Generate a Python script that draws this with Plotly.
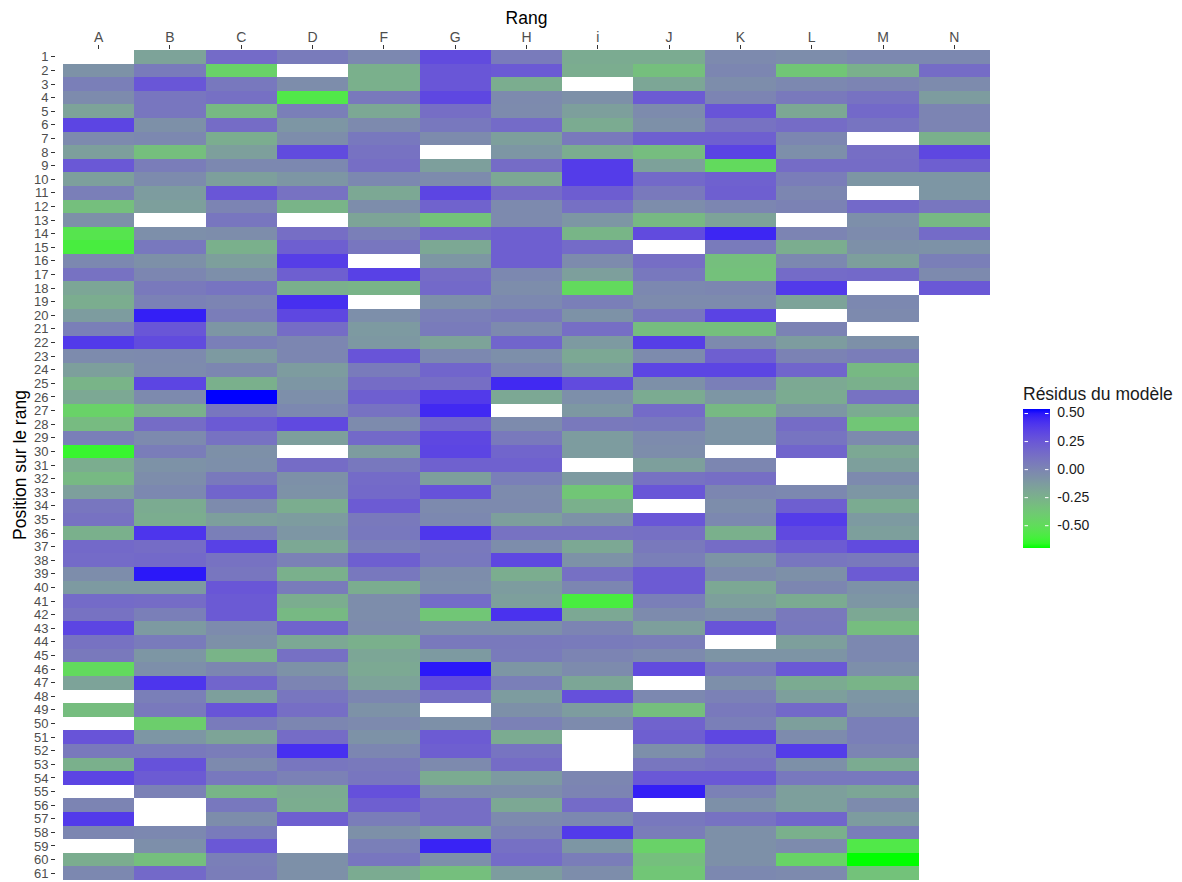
import plotly.graph_objects as go

N_ = None
rang_labels = ["A", "B", "C", "D", "F", "G", "H", "i", "J", "K", "L", "M", "N"]
positions = list(range(1, 62))
legend_ticks = [0.50, 0.25, 0.00, -0.25, -0.50]
legend_text = ["0.50", "0.25", "0.00", "-0.25", "-0.50"]

col_A = [N_,-.08,.03,-.04,-.17,.33,-.03,-.15,.24,-.15,.03,-.33,-.07,-.55,-.6,-.02,.1,-.19,-.23,-.13,.03,.38,-.04,-.15,-.27,-.2,-.44,-.31,.03,-.64,-.23,-.3,-.15,.08,.1,-.25,.15,.14,-.05,-.12,.14,.1,.33,.1,.06,-.49,-.17,N_,-.32,N_,.26,.06,-.25,.33,N_,0,.38,-.01,N_,-.23,-.02]
col_B = [-.17,.05,.25,.08,.08,-.07,-.02,-.33,.04,-.04,-.13,-.15,N_,-.06,.07,-.07,-.01,.06,.02,.47,.25,.3,-.03,-.04,.33,-.03,-.25,.13,-.03,.04,-.08,-.05,-.02,-.22,-.23,.4,.13,.15,.49,-.12,.13,.03,-.12,.05,-.1,-.06,.4,.03,.06,-.42,-.1,.06,.27,.22,.02,N_,N_,-.02,-.06,-.33,.15]
col_C = [.14,-.44,.07,.11,-.3,.13,-.23,-.15,-.02,-.15,.25,0,.08,-.05,-.25,-.15,-.06,.09,0,.04,-.1,.03,-.12,-.01,-.25,.53,.08,.23,.1,-.07,-.06,.06,.17,-.04,-.15,.03,.35,.1,.08,.25,.23,.23,-.04,-.07,-.27,-.01,.17,-.15,.26,.05,-.18,.04,-.03,.07,-.28,.07,-.05,.05,.24,.03,.04]
col_D = [.05,N_,-.05,-.57,.03,-.1,-.05,.3,-.02,-.1,.1,-.27,N_,.12,.2,.36,.2,-.25,.42,.32,.13,-.01,-.01,-.13,-.1,-.06,-.02,.31,-.15,N_,.13,-.07,-.08,-.23,-.13,-.1,-.2,.02,-.25,.05,-.23,-.3,.18,-.2,.11,-.08,0,.08,.12,-.01,.13,.42,.08,.02,-.22,-.23,.2,N_,N_,-.07,-.07]
col_F = [-.02,-.25,-.25,.06,-.2,-.03,.07,.1,.12,-.02,-.2,-.05,-.18,.03,.08,N_,.35,-.27,N_,-.06,-.12,-.11,.26,.05,.13,.2,.1,-.04,.15,-.13,.07,.14,.15,.22,.06,.07,.03,.2,.07,-.23,-.05,-.05,-.04,-.25,-.19,-.21,-.17,-.01,-.08,-.03,-.08,-.01,.06,.08,.28,.2,.04,-.07,.03,.08,-.22]
col_G = [.3,.25,.25,.32,.12,.07,-.04,N_,-.15,-.04,.33,.18,-.35,.16,-.2,-.1,.13,.15,-.06,.03,.05,-.17,-.02,.17,.12,.38,.44,.17,.32,.33,.19,-.15,.27,-.03,-.02,.39,.06,.07,-.05,-.06,.14,-.37,-.06,.06,-.12,.49,.3,.11,N_,-.07,.22,.2,-.03,-.22,-.04,.12,.12,-.15,.46,-.06,-.33]
col_H = [.05,.23,-.23,-.03,-.04,.14,-.15,-.1,.13,-.2,.13,-.03,-.03,.2,.2,.2,-.02,-.05,-.02,.06,-.03,.17,-.06,0,.44,-.2,N_,-.04,.06,.17,.19,.03,-.04,-.03,-.15,.1,-.05,.32,-.23,-.13,-.15,.41,-.07,.06,.05,-.1,.03,-.13,-.07,.02,-.22,.09,.13,-.12,-.05,-.2,-.03,.02,.11,.14,-.13]
col_i = [-.22,-.23,N_,-.07,-.15,-.22,.06,-.23,.37,.37,.21,.11,-.1,-.28,.14,-.04,-.15,-.49,.03,-.08,.12,-.12,-.2,-.13,.3,-.06,-.11,.06,-.13,-.13,N_,-.12,-.37,-.25,-.08,.1,-.2,-.08,.11,-.01,-.6,-.2,0,.05,0,-.04,-.19,.28,-.13,-.04,N_,N_,N_,-.01,0,.14,-.02,.38,-.1,.04,-.05]
col_J = [-.22,-.33,-.19,.22,-.04,-.07,.2,-.32,-.16,.15,.06,-.05,-.3,.3,N_,.12,.07,-.02,-.04,.08,-.32,.36,-.04,.33,-.07,-.22,.14,.07,-.04,-.05,-.15,.1,.25,N_,.25,.11,.06,.03,.22,.22,.03,-.04,-.15,.04,-.03,.3,N_,-.02,-.33,.18,.2,-.06,.08,.24,.47,N_,.07,.04,-.44,-.33,-.37]
col_K = [-.03,-.01,-.05,0,.26,.1,.2,.34,-.49,.19,.2,-.01,-.17,.45,.05,-.33,-.34,-.01,-.04,.34,-.33,-.03,.2,.33,.03,-.1,-.3,-.09,-.09,N_,-.01,.12,-.01,-.05,-.02,-.25,.13,-.09,-.03,-.2,-.15,-.07,.26,N_,-.09,.07,-.06,.02,.06,.03,.32,.07,.1,.24,.02,-.07,.1,-.07,-.07,-.07,-.02]
col_L = [-.05,-.37,-.02,.06,-.2,.13,-.01,-.06,.13,.04,-.01,.01,N_,0,-.23,-.02,.14,.38,-.17,N_,.01,-.13,.01,.17,-.21,-.22,-.1,.13,.09,.17,N_,N_,-.02,.2,.37,.31,.22,.08,-.07,-.01,-.22,.06,.07,-.15,-.09,.24,-.22,-.15,.15,-.15,-.04,.37,-.07,.07,-.15,-.15,.17,-.25,-.04,-.45,-.03]
col_M = [-.02,-.25,0,.1,.15,.09,N_,.12,.13,-.1,N_,.15,-.06,-.04,-.07,-.15,.15,N_,-.02,-.03,N_,-.07,.04,-.3,-.25,.1,-.22,-.37,-.03,-.2,-.15,-.03,-.1,-.22,-.12,-.15,.3,.06,.22,-.08,-.1,-.2,-.32,-.02,-.02,-.06,-.27,-.1,-.08,.03,.03,0,-.22,.07,-.19,-.04,-.13,.04,-.57,-.7,-.35]
col_N = [-.02,.13,-.04,-.13,0,0,-.25,.32,.2,-.1,-.1,.08,-.3,.14,-.08,.03,-.03,.24] + [N_] * 43

columns = [col_A, col_B, col_C, col_D, col_F, col_G, col_H, col_i, col_J, col_K, col_L, col_M, col_N]
z = [[c[r] for c in columns] for r in range(61)]
ZMIN, ZMAX = -0.70, 0.53


def to_lab(rgb):
    lin = [(v / 255 / 12.92) if v / 255 <= 0.04045 else ((v / 255 + 0.055) / 1.055) ** 2.4 for v in rgb]
    x = (0.4124 * lin[0] + 0.3576 * lin[1] + 0.1805 * lin[2]) / 0.95047
    y = 0.2126 * lin[0] + 0.7152 * lin[1] + 0.0722 * lin[2]
    zz = (0.0193 * lin[0] + 0.1192 * lin[1] + 0.9505 * lin[2]) / 1.08883
    f = lambda t: t ** (1 / 3) if t > 0.008856 else 7.787 * t + 16 / 116
    return 116 * f(y) - 16, 500 * (f(x) - f(y)), 200 * (f(y) - f(zz))


def from_lab(L, a, b):
    fy = (L + 16) / 116
    g = lambda t: t ** 3 if t ** 3 > 0.008856 else (t - 16 / 116) / 7.787
    x, y, zz = 0.95047 * g(fy + a / 500), g(fy), 1.08883 * g(fy - b / 200)
    lin = [3.2406 * x - 1.5372 * y - 0.4986 * zz, -0.9689 * x + 1.8758 * y + 0.0415 * zz, 0.0557 * x - 0.2040 * y + 1.0570 * zz]
    out = []
    for v in lin:
        v = max(0, min(1, v))
        s = 12.92 * v if v <= 0.0031308 else 1.055 * v ** (1 / 2.4) - 0.055
        out.append(round(255 * s))
    return f"rgb({out[0]},{out[1]},{out[2]})"


low, high = to_lab((0, 255, 0)), to_lab((0, 0, 255))
colorscale = [[i / 30, from_lab(*[low[k] + (high[k] - low[k]) * i / 30 for k in range(3)])] for i in range(31)]

W, H = 1182, 882
L_PX, R_PX, T_PX, B_PX = 56, 997, 49.7, 880
col_w = (990 - 63) / 13
pad = (63 - L_PX) / col_w

BAR_X, BAR_W, BAR_TOP, BAR_H = 1023, 27, 410, 138
TITLE_H = 26

fig = go.Figure(go.Heatmap(
    x=list(range(13)), y=positions, z=z,
    zmin=ZMIN, zmax=ZMAX, colorscale=colorscale, hoverongaps=False,
    colorbar=dict(
        x=(BAR_X - L_PX) / (R_PX - L_PX), xanchor="left", xpad=0,
        y=(B_PX - (BAR_TOP - TITLE_H)) / (B_PX - T_PX), yanchor="top", ypad=0,
        thicknessmode="pixels", thickness=BAR_W, lenmode="pixels", len=BAR_H + TITLE_H,
        outlinewidth=0, borderwidth=0,
        tickmode="array", tickvals=legend_ticks, ticktext=legend_text,
        ticks="outside", ticklen=5, tickcolor="white", tickwidth=1,
        tickfont=dict(family="Liberation Sans", size=14, color="#1a1a1a"),
        title=dict(text="Résidus du modèle", side="top",
                   font=dict(family="Liberation Sans", size=17.5, color="#1a1a1a")),
    ),
))

# small white notches on both edges of the colour bar, as in the reference legend
annotations = []
for v in legend_ticks:
    ypx = BAR_TOP + (ZMAX - v) / (ZMAX - ZMIN) * BAR_H
    yy = (B_PX - ypx) / (B_PX - T_PX)
    for edge, direction in ((BAR_X, 5), (BAR_X + BAR_W, -5)):
        annotations.append(dict(
            xref="paper", yref="paper", x=(edge + direction - L_PX) / (R_PX - L_PX), y=yy,
            text="", showarrow=True, arrowhead=0, arrowcolor="white", arrowwidth=1,
            ax=-direction, ay=0, axref="pixel", ayref="pixel", standoff=0, startstandoff=0,
        ))

fig.update_layout(
    width=W, height=H, autosize=False,
    margin=dict(l=L_PX, r=W - R_PX, t=T_PX, b=H - B_PX, pad=0),
    paper_bgcolor="white", plot_bgcolor="white",
    font=dict(family="Liberation Sans"),
    annotations=annotations,
    xaxis=dict(
        side="top", range=[-0.5 - pad, 12.5 + pad], tickmode="array",
        tickvals=list(range(13)), ticktext=rang_labels, ticks="outside", ticklen=4,
        tickcolor="#333333", tickwidth=1, showgrid=False, zeroline=False, showline=False,
        ticklabelstandoff=-3,
        tickfont=dict(family="Liberation Sans", size=14, color="#4D4D4D"),
        title=dict(text="Rang", standoff=0, font=dict(family="Liberation Sans", size=17.5, color="black")),
    ),
    yaxis=dict(
        range=[61.5, 0.5], tickmode="array", tickvals=positions, ticktext=[str(p) for p in positions],
        ticks="outside", ticklen=4, tickcolor="#333333", tickwidth=1,
        showgrid=False, zeroline=False, showline=False,
        tickfont=dict(family="Liberation Sans", size=13, color="#4D4D4D"),
        title=dict(text="Position sur le rang", standoff=2, font=dict(family="Liberation Sans", size=17.5, color="black")),
    ),
)

fig.write_html("out.html", config=dict(displayModeBar=False), post_script="document.body.style.margin='0';")
